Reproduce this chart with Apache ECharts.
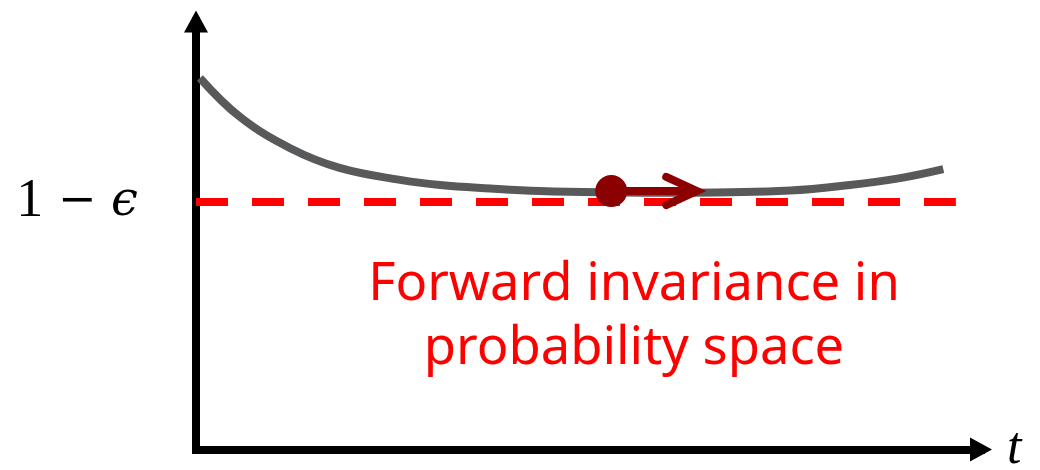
<!DOCTYPE html>
<html>
<head>
<meta charset="utf-8">
<script src="https://cdn.jsdelivr.net/npm/echarts@6.0.0/dist/echarts.min.js"></script>
<style>
  html, body { margin: 0; padding: 0; background: #fff; }
  #chart { width: 1040px; height: 470px; }
</style>
</head>
<body>
<div id="chart"></div>
<script>
// curve: probability over time
const curveT = [0.05, 0.56, 1.20, 1.83, 2.60, 3.11, 3.75, 4.38, 5.15, 6.29, 7.57, 8.33, 8.97, 9.52];
const curveP = [0.868, 0.777, 0.704, 0.658, 0.630, 0.618, 0.610, 0.604, 0.601, 0.600, 0.605, 0.618, 0.634, 0.655];

// threshold 1 - eps
const threshold = 0.578;
const thresholdSpan = [0, 9.68];

// moving state + its direction arrow
const dotT = 5.29, dotP = 0.604;
const shaftT = [5.29, 6.33];
const headT = [5.99, 6.38, 5.99];
const headP = [0.637, 0.604, 0.571];

const annotation = ['Forward invariance in', 'probability space'];

const chart = echarts.init(document.getElementById('chart'));

const axisLineStyle = {
    show: true,
    symbol: ['none', 'triangle'],
    symbolSize: [24, 22],
    lineStyle: { color: '#000', width: 8, cap: 'square' }
};

const option = {
    animation: false,
    backgroundColor: '#fff',
    grid: { left: 196, right: 59, top: 21.5, bottom: 20.5, outerBoundsMode: 'none', containLabel: false },
    xAxis: {
        type: 'value',
        min: 0, max: 10,
        name: 't',
        nameLocation: 'end',
        nameGap: 26,
        nameTextStyle: {
            fontFamily: 'Liberation Serif', fontStyle: 'italic', fontSize: 52,
            color: '#000', padding: [8, 0, 0, 0]
        },
        axisLine: axisLineStyle,
        axisTick: { show: false },
        axisLabel: { show: false },
        splitLine: { show: false }
    },
    yAxis: {
        type: 'value',
        min: 0, max: 1,
        axisLine: axisLineStyle,
        axisTick: { show: false },
        axisLabel: { show: false },
        splitLine: { show: false }
    },
    graphic: [{
        type: 'text',
        x: 634,
        y: 253,
        style: {
            text: annotation.join('\n'),
            align: 'center',
            verticalAlign: 'top',
            fontFamily: 'Noto Sans',
            fontSize: 52.5,
            lineHeight: 64,
            fill: '#ff0000'
        }
    }],
    series: [
        {
            // dashed threshold line, labelled 1 - eps
            type: 'line',
            data: thresholdSpan.map(t => [t, threshold]),
            symbol: 'none',
            silent: true,
            lineStyle: { color: '#ff0000', width: 8, type: [32, 24], cap: 'butt' },
            markLine: {
                silent: true,
                symbol: 'none',
                lineStyle: { color: 'rgba(0,0,0,0)', width: 0 },
                label: {
                    show: true,
                    position: 'start',
                    distance: 58,
                    formatter: '{n|1}{m| − }{e|ϵ}',
                    rich: {
                        n: { fontFamily: 'Liberation Serif', fontSize: 54, color: '#000' },
                        m: { fontFamily: 'DejaVu Serif', fontSize: 46, color: '#000' },
                        e: { fontFamily: 'DejaVu Serif', fontStyle: 'italic', fontSize: 48, color: '#000' }
                    }
                },
                data: [[{ coord: [thresholdSpan[0], threshold] }, { coord: [thresholdSpan[1], threshold] }]]
            }
        },
        {
            type: 'line',
            data: curveT.map((t, i) => [t, curveP[i]]),
            smooth: 0.4,
            symbol: 'none',
            silent: true,
            lineStyle: { color: '#58595b', width: 8, cap: 'butt' },
            z: 3
        },
        {
            type: 'line',
            data: shaftT.map(t => [t, dotP]),
            symbol: 'none',
            silent: true,
            lineStyle: { color: '#8b0000', width: 8 },
            z: 4
        },
        {
            type: 'line',
            data: headT.map((t, i) => [t, headP[i]]),
            symbol: 'none',
            silent: true,
            lineStyle: { color: '#8b0000', width: 8, cap: 'round', join: 'miter' },
            z: 4
        },
        {
            type: 'scatter',
            data: [[dotT, dotP]],
            symbol: 'circle',
            symbolSize: 32,
            silent: true,
            itemStyle: { color: '#8b0000', opacity: 1 },
            z: 5
        }
    ]
};

chart.setOption(option);
</script>
</body>
</html>
